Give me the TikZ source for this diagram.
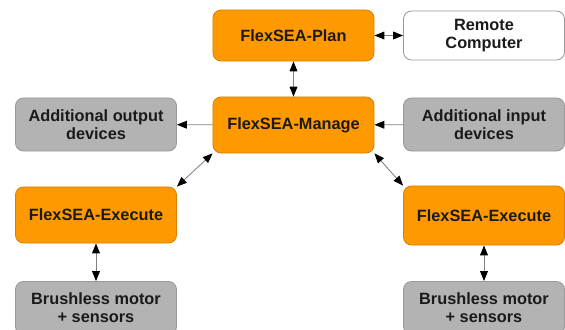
\documentclass[tikz,border=0pt]{standalone}
\usepackage{fontspec}
\setmainfont{Liberation Sans}
\usetikzlibrary{arrows.meta}
\definecolor{flexorange}{HTML}{FF9900}
\definecolor{flexborder}{HTML}{D98200}
\definecolor{devgrey}{HTML}{B3B3B3}
\definecolor{devborder}{HTML}{999999}
\definecolor{linkgrey}{HTML}{808080}
\definecolor{textdark}{HTML}{1A1A1A}

\begin{document}
\begin{tikzpicture}[x=0.025cm,y=-0.025cm,
    box/.style={rounded corners=0.2cm, minimum width=4.025cm, align=center, line width=0.6pt,
      font=\fontsize{11.6}{13}\selectfont\bfseries, text=textdark},
    flexbox/.style={box, fill=flexorange, draw=flexborder},
    greybox/.style={box, fill=devgrey, draw=devborder},
    whitebox/.style={box, fill=white, draw=devborder},
    tip/.tip={Triangle[length=7pt,width=5.5pt,color=black]},
    link/.style={draw=linkgrey, line width=0.6pt}]
        \useasboundingbox (0,0) rectangle (565,329);
        \clip (0,0) rectangle (565,329);
        \node[flexbox, minimum height=1.275cm] (plan) at (293.5,35.5) {FlexSEA-Plan};
        \node[whitebox, minimum height=1.225cm] (remote) at (484,35.5) {Remote\\Computer};
        \node[flexbox, minimum height=1.4cm] (manage) at (293.5,125) {FlexSEA-Manage};
        \node[greybox, minimum height=1.325cm] (output) at (96,124.5) {Additional output\\devices};
        \node[greybox, minimum height=1.325cm] (input) at (484,124.5) {Additional input\\devices};
        \node[flexbox, minimum height=1.4cm] (execl) at (96,215) {FlexSEA-Execute};
        \node[flexbox, minimum height=1.475cm] (execr) at (484,215.5) {FlexSEA-Execute};
        \node[greybox, minimum height=1.325cm] (motorl) at (96,308) {Brushless motor\\+ sensors};
        \node[greybox, minimum height=1.325cm] (motorr) at (484,308) {Brushless motor\\+ sensors};
        \draw[link, tip-tip] (plan) -- (remote);
        \draw[link, tip-tip] (plan) -- (manage);
        \draw[link, -tip] (manage) -- (output);
        \draw[link, -tip] (input) -- (manage);
        \draw[link, tip-tip] (manage.south west) -- (execl.north east);
        \draw[link, tip-tip] (manage.south east) -- (execr.north west);
        \draw[link, tip-tip] (execl) -- (motorl);
        \draw[link, tip-tip] (execr) -- (motorr);
    \end{tikzpicture}
\end{document}
